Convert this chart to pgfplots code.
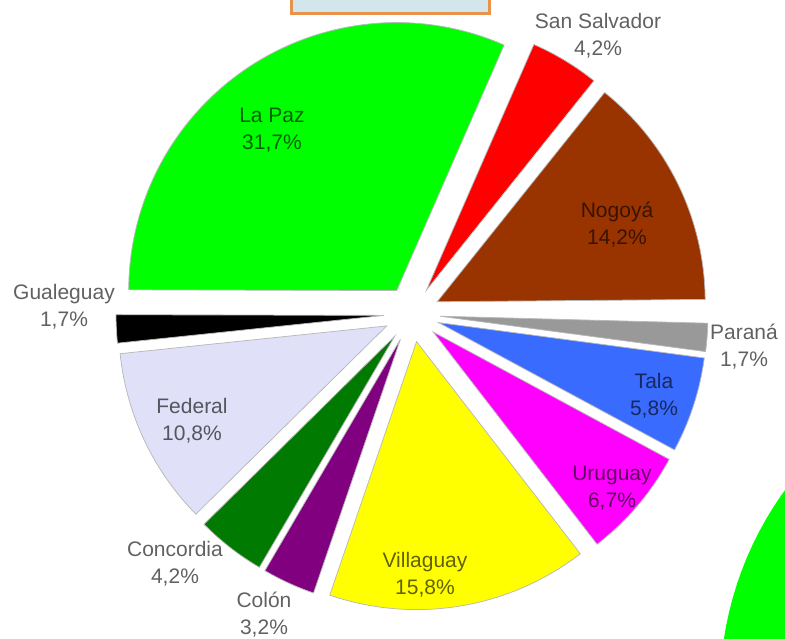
\documentclass[border=0pt]{standalone}
\usepackage{pgfplots}
\pgfplotsset{compat=1.18}
\usepackage{fontspec}
\setmainfont{Liberation Sans}

\definecolor{cNog}{HTML}{993300}
\definecolor{cSan}{HTML}{FF0000}
\definecolor{cLaP}{HTML}{00FF00}
\definecolor{cGua}{HTML}{000000}
\definecolor{cFed}{HTML}{E0E0F8}
\definecolor{cCon}{HTML}{007A00}
\definecolor{cCol}{HTML}{800080}
\definecolor{cVil}{HTML}{FFFF00}
\definecolor{cUru}{HTML}{FF00FF}
\definecolor{cTal}{HTML}{3A6BFF}
\definecolor{cPar}{HTML}{999999}
\definecolor{boxfill}{HTML}{D2E6EC}
\definecolor{boxedge}{HTML}{E8924A}

\tikzset{lbl/.style={font=\fontsize{8.4pt}{10.8pt}\selectfont, align=center,
              text=black, text opacity=0.62, inner sep=0pt}}

% #1 cumulative start (%), #2 share (%), #3 colour
\newcommand\slice[3]{%
  \pgfmathsetmacro\aA{0.5+#1*3.58}%
  \pgfmathsetmacro\aB{0.5+(#1+#2)*3.58}%
  \pgfmathsetmacro\aM{0.5+(#1+#2/2)*3.58}%
  \pgfmathsetmacro\ox{412+28*cos(\aM)}%
  \pgfmathsetmacro\oy{325+28*sin(\aM)}%
  \edef\doslice{\noexpand\addplot[fill=#3, draw=gray!55, line width=0.3pt,
     domain=\aA:\aB, samples=90, variable=\noexpand\t]
     ({\ox+268*cos(\noexpand\t)},{\oy+268*sin(\noexpand\t)}) -- (axis cs:\ox,\oy) -- cycle;}%
  \doslice
}

\begin{document}
\begin{tikzpicture}
\begin{axis}[name=ax,
  x=0.4pt, y=0.4pt, hide axis,
  xmin=0, xmax=785, ymin=0, ymax=639,
  enlargelimits=false, clip=true,
]
% title box (cut off at the top)
\draw[draw=boxedge, line width=1.2pt, fill=boxfill] (axis cs:291,625) rectangle (axis cs:489,700);

% second chart, cut off at the bottom right
\addplot[fill=cLaP, draw=none, domain=0:360, samples=150] ({1060+340*cos(x)},{-51+340*sin(x)});

% pie slices: start %, share %
\slice{0}{14.2}{cNog}
\slice{14.2}{4.2}{cSan}
\slice{18.4}{31.7}{cLaP}
\slice{50.1}{1.7}{cGua}
\slice{51.8}{10.8}{cFed}
\slice{62.6}{4.2}{cCon}
\slice{66.8}{3.2}{cCol}
\slice{70.0}{15.8}{cVil}
\slice{85.8}{6.7}{cUru}
\slice{92.5}{5.8}{cTal}
\slice{98.3}{1.7}{cPar}

\node[lbl] at (axis cs:598,603) {San Salvador\\4,2\%};
\node[lbl] at (axis cs:272,509) {La Paz\\31,7\%};
\node[lbl] at (axis cs:617,414) {Nogoyá\\14,2\%};
\node[lbl] at (axis cs:744,292) {Paraná\\1,7\%};
\node[lbl] at (axis cs:654,243) {Tala\\5,8\%};
\node[lbl] at (axis cs:612,151) {Uruguay\\6,7\%};
\node[lbl] at (axis cs:425,64) {Villaguay\\15,8\%};
\node[lbl] at (axis cs:264,24) {Colón\\3,2\%};
\node[lbl] at (axis cs:175,75) {Concordia\\4,2\%};
\node[lbl] at (axis cs:192,218) {Federal\\10,8\%};
\node[lbl] at (axis cs:64,332) {Gualeguay\\1,7\%};
\end{axis}
\pgfresetboundingbox
\path (ax.south west) rectangle (ax.north east);
\end{tikzpicture}
\end{document}
